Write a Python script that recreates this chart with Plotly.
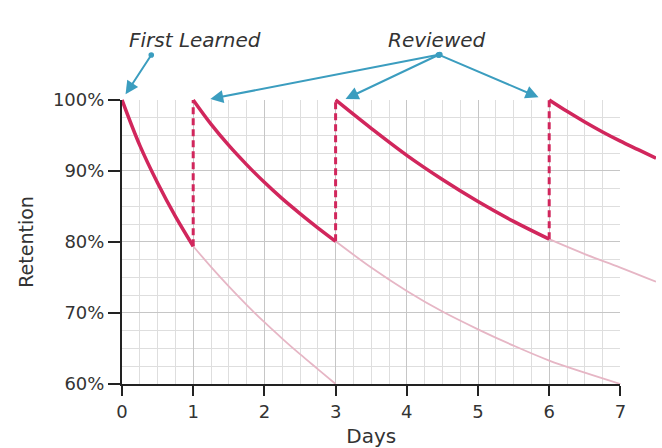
import plotly.graph_objects as go

# values: days since first learned -> retention (%)
day_ticks = [0, 1, 2, 3, 4, 5, 6, 7]
retention_ticks = [60, 70, 80, 90, 100]
retention_labels = [f'{v}%' for v in retention_ticks]

# bold curves: memory right after learning / each review
learn_days = [0, 0.25, 0.5, 0.75, 1]
learn_ret = [100, 93.6, 88.3, 83.6, 79.4]

review1_days = [1, 1.25, 1.5, 1.75, 2, 2.25, 2.5, 2.75, 3]
review1_ret = [100, 96.6, 93.6, 90.9, 88.4, 86.1, 84.0, 82.0, 80.1]

review2_days = [3, 3.5, 4, 4.5, 5, 5.5, 6]
review2_ret = [100, 96.0, 92.2, 88.8, 85.7, 82.9, 80.4]

review3_days = [6, 6.25, 6.5, 6.75, 7, 7.25, 7.5]
review3_ret = [100, 98.4, 96.9, 95.5, 94.2, 93.0, 91.8]

# faded curves: what happens without the review
forget1_days = [1, 1.25, 1.5, 1.75, 2, 2.25, 2.5, 2.75, 3]
forget1_ret = [79.4, 76.5, 73.75, 71.15, 68.7, 66.4, 64.2, 62.1, 60.0]

forget2_days = [3, 3.5, 4, 4.5, 5, 5.5, 6, 6.5, 7]
forget2_ret = [80.1, 76.4, 73.1, 70.2, 67.7, 65.4, 63.3, 61.6, 60.0]

forget3_days = [6, 6.5, 7, 7.5]
forget3_ret = [80.4, 78.3, 76.4, 74.4]

review_days = [1, 3, 6]

BOLD = '#d1265c'
FADED = '#e6b6c5'
ARROW = '#3b9dbf'
TEXT = '#333333'
AXIS = '#222222'
FONT = 'DejaVu Sans'

W, H = 662, 448
ML = 122           # left edge of the grid
MT = 92            # a little room above the 100% line so peaks aren't clipped
MB = H - 385       # bottom of the grid
plot_w = W - ML
plot_h = H - MT - MB
grid_w = 504   # width of the 0..7 day grid
grid_h = 285   # height of the 60..100 % grid

fig = go.Figure()

# faded "no review" curves
for days, ret in [(forget1_days, forget1_ret), (forget2_days, forget2_ret),
                  (forget3_days, forget3_ret)]:
    fig.add_trace(go.Scatter(x=days, y=ret, mode='lines', xaxis='x2', yaxis='y2',
                             line=dict(color=FADED, width=1.8, shape='spline', smoothing=1),
                             hoverinfo='skip'))

# dashed jumps back to 100% at each review
ends = [learn_ret[-1], review1_ret[-1], review2_ret[-1]]
for d, low in zip(review_days, ends):
    fig.add_trace(go.Scatter(x=[d, d], y=[low, 100], mode='lines', xaxis='x2', yaxis='y2',
                             line=dict(color=BOLD, width=3, dash='7px,4px'),
                             hoverinfo='skip'))

# bold retention curves
for days, ret in [(learn_days, learn_ret), (review1_days, review1_ret),
                  (review2_days, review2_ret), (review3_days, review3_ret)]:
    fig.add_trace(go.Scatter(x=days, y=ret, mode='lines', xaxis='x2', yaxis='y2',
                             line=dict(color=BOLD, width=3.5, shape='spline', smoothing=1)))


def py(ref_y):
    # pixel row -> paper y
    return (H - MB - ref_y) / plot_h


annotations = [
    dict(text='<i>First Learned</i>', x=1.03, y=py(40), xref='x', yref='paper',
         xanchor='center', yanchor='middle', showarrow=False,
         font=dict(family=FONT, size=20, color=TEXT)),
    dict(text='<i>Reviewed</i>', x=4.43, y=py(40), xref='x', yref='paper',
         xanchor='center', yanchor='middle', showarrow=False,
         font=dict(family=FONT, size=20, color=TEXT)),
]

# arrows: (head day, head pixel row, tail pixel x, tail pixel y)
arrows = [
    (0.05, 94.3, 152.3, 53.5),
    (1.24, 99.0, 442.3, 54.3),
    (3.14, 99.0, 442.3, 54.3),
    (5.85, 97.3, 442.3, 54.3),
]
for hx, hy, tx, ty in arrows:
    head_px = ML + hx * grid_w / 7
    annotations.append(dict(
        text='', x=hx, y=py(hy), xref='x', yref='paper',
        ax=tx - head_px, ay=ty - hy, showarrow=True,
        arrowhead=2, arrowsize=1.3, arrowwidth=2, arrowcolor=ARROW,
        arrowside='end+start', startarrowhead=6, startarrowsize=0.7,
        standoff=0, startstandoff=0))

fig.update_layout(
    width=W, height=H,
    margin=dict(l=ML, r=0, t=MT, b=MB, pad=0),
    paper_bgcolor='white', plot_bgcolor='rgba(0,0,0,0)',
    showlegend=False,
    font=dict(family=FONT, size=18, color=TEXT),
    annotations=annotations,
    xaxis=dict(domain=[0, grid_w / plot_w], range=[0, 7], anchor='y',
               tickmode='array', tickvals=day_ticks,
               showgrid=True, gridcolor='#c6c6c6', gridwidth=1.4,
               minor=dict(dtick=0.25, showgrid=True, gridcolor='#dedede', gridwidth=1.2, ticks=''),
               showline=True, linecolor=AXIS, linewidth=2,
               ticks='outside', ticklen=10, tickwidth=2, tickcolor=AXIS,
               zeroline=False, fixedrange=True,
               title=dict(text='Days', font=dict(size=20, color=TEXT), standoff=12)),
    yaxis=dict(domain=[0, grid_h / plot_h], range=[60, 100], anchor='x',
               tickmode='array', tickvals=retention_ticks, ticktext=retention_labels,
               showgrid=True, gridcolor='#c6c6c6', gridwidth=1.4,
               minor=dict(dtick=2.5, showgrid=True, gridcolor='#dedede', gridwidth=1.2, ticks=''),
               showline=True, linecolor=AXIS, linewidth=2,
               ticks='outside', ticklen=12, tickwidth=2, tickcolor=AXIS,
               zeroline=False, fixedrange=True,
               title=dict(text='Retention', font=dict(size=19, color=TEXT), standoff=14)),
    xaxis2=dict(domain=[0, 1], range=[0, 7 * plot_w / grid_w], anchor='y2',
                visible=False, fixedrange=True),
    yaxis2=dict(domain=[0, 1], range=[60, 60 + 40 * plot_h / grid_h], anchor='x2',
                visible=False, fixedrange=True),
)

# drop the page's default body margin so the figure fills the window exactly
fig.write_html("out.html", post_script="document.body.style.margin = '0';",
               config=dict(displayModeBar=False))
